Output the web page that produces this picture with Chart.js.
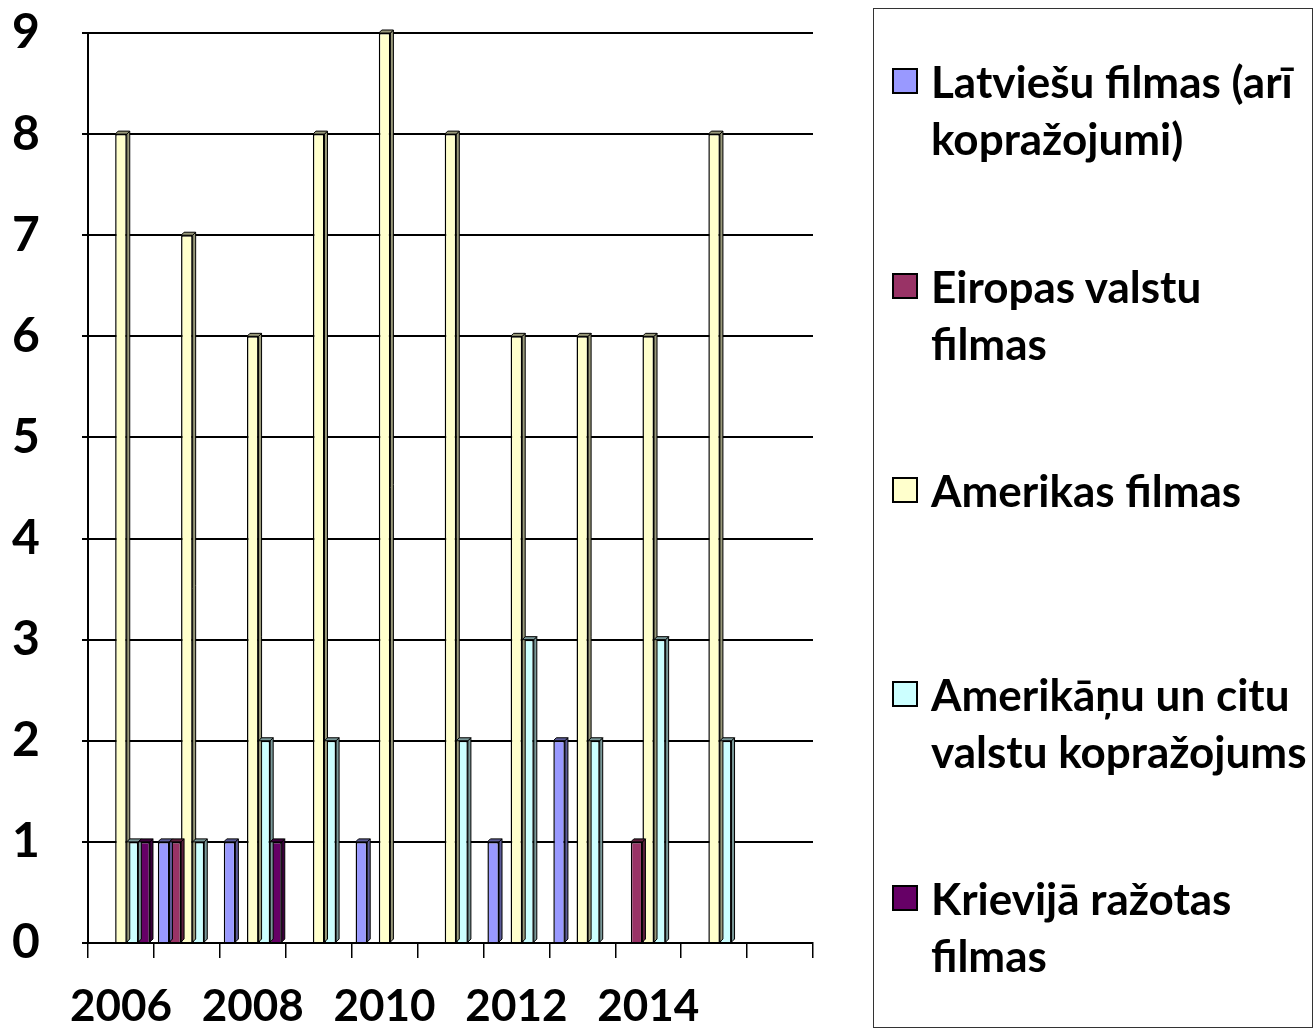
<!DOCTYPE html>
<html lang="lv">
<head>
<meta charset="utf-8">
<title>Filmas</title>
<script src="https://cdn.jsdelivr.net/npm/chart.js@4.4.1/dist/chart.umd.min.js"></script>
<style>
    html, body { margin: 0; padding: 0; background: #fff; }
    #wrap { position: relative; width: 1315px; height: 1030px; }
    #legendBox {
        position: absolute; left: 873px; top: 8px; width: 440px; height: 1020px;
        border: 1px solid #333; box-sizing: border-box;
        font-family: Lato, "Open Sans", sans-serif; font-weight: bold; font-size: 44px;
        line-height: 57px; color: #000;
    }
    .item { position: absolute; left: 57px; white-space: nowrap; }
    .swatch {
        position: absolute; left: -39px; top: 15px; width: 22px; height: 22px;
        border: 2px solid #000;
    }
</style>
</head>
<body>
<div id="wrap">
    <canvas id="filmChart"></canvas>
    <div id="legendBox"></div>
</div>
<script>
// 数据
const years = ['2006', '2007', '2008', '2009', '2010', '2011', '2012', '2013', '2014', '2015', ''];
const latvian = [0, 1, 1, 0, 1, 0, 1, 2, 0, 0, 0];
const european = [0, 1, 0, 0, 0, 0, 0, 0, 1, 0, 0];
const american = [8, 7, 6, 8, 9, 8, 6, 6, 6, 8, 0];
const coproduction = [1, 1, 2, 2, 0, 2, 3, 2, 3, 2, 0];
const russian = [1, 0, 1, 0, 0, 0, 0, 0, 0, 0, 0];
const yTicks = [0, 1, 2, 3, 4, 5, 6, 7, 8, 9];

const seriesNames = [
    ['Latviešu filmas (arī', 'kopražojumi)'],
    ['Eiropas valstu', 'filmas'],
    ['Amerikas filmas'],
    ['Amerikāņu un citu', 'valstu kopražojums'],
    ['Krievijā ražotas', 'filmas']
];
const seriesData = [latvian, european, american, coproduction, russian];
const seriesColors = ['#9999FF', '#993366', '#FFFFCC', '#CCFFFF', '#660066'];
const sideColors = ['#5c5c99', '#5c1f3d', '#99997a', '#7a9999', '#3d003d'];

document.addEventListener('DOMContentLoaded', function() {
    const font = 'Lato, "Open Sans", sans-serif';

    // 3D 侧面
    const depthPlugin = {
        id: 'depth',
        afterDatasetsDraw: function(chart) {
            const ctx = chart.ctx;
            const d = 3;
            chart.data.datasets.forEach(function(ds, i) {
                const meta = chart.getDatasetMeta(i);
                meta.data.forEach(function(bar, j) {
                    if (!seriesData[i][j]) return;
                    const r = bar.x + bar.width / 2;
                    const l = bar.x - bar.width / 2;
                    ctx.save();
                    ctx.fillStyle = sideColors[i];
                    ctx.strokeStyle = '#000';
                    ctx.lineWidth = 1;
                    ctx.beginPath();
                    ctx.moveTo(r, bar.y);
                    ctx.lineTo(r + d, bar.y - d);
                    ctx.lineTo(r + d, bar.base - d);
                    ctx.lineTo(r, bar.base);
                    ctx.closePath();
                    ctx.fill();
                    ctx.stroke();
                    ctx.beginPath();
                    ctx.moveTo(l, bar.y);
                    ctx.lineTo(l + d, bar.y - d);
                    ctx.lineTo(r + d, bar.y - d);
                    ctx.lineTo(r, bar.y);
                    ctx.closePath();
                    ctx.fill();
                    ctx.stroke();
                    ctx.restore();
                });
            });
        }
    };

    new Chart(document.getElementById('filmChart'), {
        type: 'bar',
        data: {
            labels: years,
            datasets: seriesNames.map(function(name, i) {
                return {
                    label: name.join(' '),
                    data: seriesData[i],
                    backgroundColor: seriesColors[i],
                    borderColor: '#000',
                    borderWidth: 1.5,
                    categoryPercentage: 0.88,
                    barPercentage: 1
                };
            })
        },
        options: {
            responsive: true,
            maintainAspectRatio: false,
            animation: false,
            layout: { padding: { top: 33, right: 502, left: 12, bottom: 0 } },
            plugins: {
                legend: { display: false },
                tooltip: { enabled: false }
            },
            scales: {
                x: {
                    grid: {
                        drawOnChartArea: false,
                        color: '#000',
                        lineWidth: 1.5,
                        tickLength: 15
                    },
                    border: { color: '#000', width: 2 },
                    ticks: {
                        autoSkip: false,
                        maxRotation: 0,
                        padding: 22,
                        color: '#000',
                        font: { family: font, size: 44, weight: 'bold' },
                        callback: function(value, index) {
                            return index % 2 === 0 ? this.getLabelForValue(value) : '';
                        }
                    },
                    afterFit: function(scale) { scale.height = 87; }
                },
                y: {
                    min: 0,
                    max: yTicks[yTicks.length - 1],
                    afterBuildTicks: function(scale) {
                        scale.ticks = yTicks.map(function(v) { return { value: v }; });
                    },
                    grid: {
                        color: '#000',
                        lineWidth: 2,
                        tickLength: 6
                    },
                    border: { color: '#000', width: 2 },
                    ticks: {
                        padding: 2,
                        crossAlign: 'far',
                        color: '#000',
                        font: { family: font, size: 48, weight: 'bold' }
                    },
                    afterFit: function(scale) { scale.width = 76; }
                }
            }
        },
        plugins: [depthPlugin]
    });

    // 图例
    const legendTops = [44, 249, 453, 657, 861];
    const legendBox = document.getElementById('legendBox');
    seriesNames.forEach(function(lines, i) {
        const item = document.createElement('div');
        item.className = 'item';
        item.style.top = legendTops[i] + 'px';
        const sw = document.createElement('span');
        sw.className = 'swatch';
        sw.style.background = seriesColors[i];
        item.appendChild(sw);
        lines.forEach(function(line, k) {
            if (k > 0) item.appendChild(document.createElement('br'));
            item.appendChild(document.createTextNode(line));
        });
        legendBox.appendChild(item);
    });
});
</script>
</body>
</html>
